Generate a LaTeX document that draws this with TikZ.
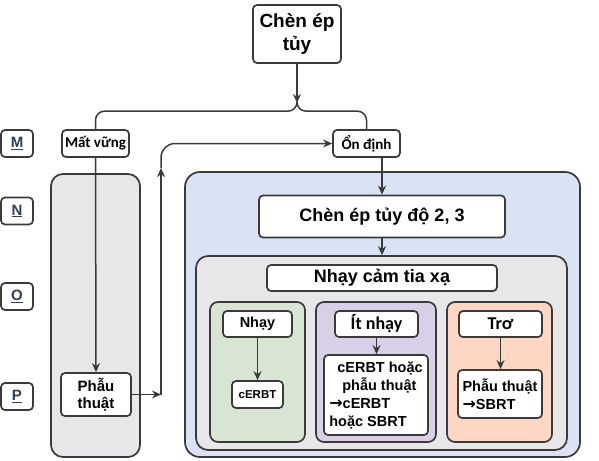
\documentclass[tikz,border=0pt]{standalone}
\usepackage{fontspec}
\setmainfont{Liberation Sans}
\newfontfamily\calfont{Carlito}
\newfontfamily\dvfont{DejaVu Sans}
\usetikzlibrary{arrows.meta}
\definecolor{lc}{HTML}{3A3A3A}
\definecolor{blueC}{HTML}{DAE3F3}
\definecolor{grayC}{HTML}{E7E7E9}
\definecolor{greenC}{HTML}{D9E5D3}
\definecolor{purpleC}{HTML}{D8D0E6}
\definecolor{orangeC}{HTML}{FDD6C4}
\definecolor{lblC}{HTML}{333F50}
\newcommand{\rarr}{{\dvfont\bfseries\fontsize{16}{18}\selectfont →}}
\begin{document}
\begin{tikzpicture}[x=1pt,y=-1pt,
  box/.style={draw=lc, line width=1.7pt, rounded corners=4pt, fill=white, inner sep=1pt, align=center, font=\bfseries},
  cont/.style={draw=lc, line width=1.7pt, rounded corners=12pt, inner sep=0pt},
  lbl/.style={box, minimum width=32pt, minimum height=27pt, font=\bfseries\fontsize{15}{18}\selectfont, text=lblC},
  arr/.style={-{Stealth[length=9pt,width=8pt]}, line width=1.5pt, draw=lc},
  ln/.style={line width=1.5pt, draw=lc}]
\useasboundingbox (0,0) rectangle (599,460);

% containers
\node[cont, fill=grayC, minimum width=89pt, minimum height=283pt] (lcol) at (95.5,315.5) {};
\node[cont, fill=blueC, minimum width=395pt, minimum height=285pt, rounded corners=15pt] (blue) at (382.5,314.5) {};
\node[cont, fill=grayC, minimum width=371pt, minimum height=194pt] (ig) at (381.5,353) {};
\node[cont, fill=greenC, minimum width=95pt, minimum height=140pt, rounded corners=8pt] (green) at (257.5,372) {};
\node[cont, fill=purpleC, minimum width=120pt, minimum height=140pt, rounded corners=8pt] (purple) at (376,372) {};
\node[cont, fill=orangeC, minimum width=105pt, minimum height=140pt, rounded corners=8pt] (orange) at (499.5,372) {};

% side labels
\node[lbl] (lm) at (17,143.5) {\underline{M}};
\node[lbl] (ln) at (17,211) {\underline{N}};
\node[lbl] (lo) at (17,296.5) {\underline{O}};
\node[lbl] (lp) at (17,396.5) {\underline{P}};

% boxes
\node[box, minimum width=88pt, minimum height=58pt, font=\bfseries\fontsize{19}{23}\selectfont] (top) at (297,34) {Chèn ép\\tủy};
\node[box, minimum width=67pt, minimum height=27pt, font=\calfont\bfseries\fontsize{15}{18}\selectfont] (mv) at (95.5,143.5) {Mất vững};
\node[box, minimum width=67pt, minimum height=27pt, font=\calfont\bfseries\fontsize{15}{18}\selectfont] (od) at (366.5,143.5) {Ổn định};
\node[box, minimum width=70pt, minimum height=43pt, font=\bfseries\fontsize{15}{17}\selectfont] (pt) at (96,394.5) {Phẫu\\thuật};
\node[box, minimum width=246pt, minimum height=42pt, font=\bfseries\fontsize{18}{21}\selectfont] (c23) at (382,216.5) {Chèn ép tủy độ 2, 3};
\node[box, minimum width=230pt, minimum height=26pt, font=\bfseries\fontsize{18}{21}\selectfont] (nc) at (382,278) {Nhạy cảm tia xạ};
\node[box, minimum width=69pt, minimum height=26pt, font=\bfseries\fontsize{14.5}{17}\selectfont] (nhay) at (257.5,324) {Nhạy};
\node[box, minimum width=51pt, minimum height=27pt, font=\bfseries\fontsize{11.5}{14}\selectfont] (cerbt) at (257.5,394.5) {cERBT};
\node[box, minimum width=83pt, minimum height=26pt, font=\calfont\bfseries\fontsize{18}{21}\selectfont] (itn) at (376.5,324) {Ít nhạy};
\node[box, minimum width=104pt, minimum height=80pt, align=left, font=\bfseries\fontsize{14.5}{18}\selectfont] (cb2) at (376,395) {\hspace*{8pt}cERBT hoặc\\\hspace*{13pt}phẫu thuật\\\rarr cERBT\\hoặc SBRT};
\node[box, minimum width=83pt, minimum height=26pt, font=\calfont\bfseries\fontsize{18}{21}\selectfont] (tro) at (500.5,324) {Trơ};
\node[box, minimum width=84pt, minimum height=48pt, align=left, font=\bfseries\fontsize{14.5}{18}\selectfont] (pt2) at (500,394) {Phẫu thuật\\\rarr SBRT};

% connectors
\coordinate (fork) at (297,103);
\coordinate (upb) at (161,394.5);
\coordinate (upm) at (161,168);
\draw[arr] (top.south) -- (fork);
\draw[ln, rounded corners=9pt] (fork) |- ([yshift=18pt]mv.north) -- (mv.north);
\draw[ln, rounded corners=9pt] (fork) |- ([yshift=18pt]od.north) -- (od.north);
\draw[arr] (mv.south) -- (pt.north);
\draw[arr] (pt.east) -- (upb);
\draw[arr] (upb) -- (upm);
\draw[arr, rounded corners=14pt] (upm) |- (od.west);
\draw[arr] (c23.north |- od.south) -- (c23.north);
\draw[arr] (c23.south) -- (c23.south |- ig.north);
\draw[arr] (nhay.south) -- (cerbt.north);
\draw[arr] (itn.south) -- (itn.south |- cb2.north);
\draw[arr] (tro.south) -- (tro.south |- pt2.north);
\end{tikzpicture}
\end{document}
